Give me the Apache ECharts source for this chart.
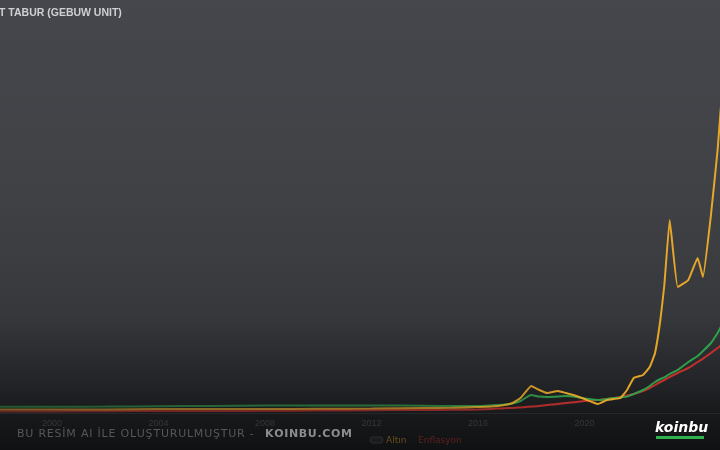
<!DOCTYPE html>
<html>
<head>
<meta charset="utf-8">
<script src="https://cdn.jsdelivr.net/npm/echarts@6/dist/echarts.min.js"></script>
<style>
html,body{margin:0;padding:0;background:#111214;}
#c{width:720px;height:450px;}
</style>
</head>
<body>
<div id="c"></div>
<script>
const titleText = 'T TABUR (GEBUW UNIT)';
const years = [1998.0, 2000, 2002, 2004, 2006, 2008, 2010, 2012, 2014, 2015, 2016, 2016.5, 2017, 2017.3, 2017.6, 2018.0, 2018.3, 2018.6, 2019.0, 2019.3, 2019.7, 2020.0, 2020.5, 2020.85, 2021.1, 2021.35, 2021.6, 2021.85, 2022.2, 2022.45, 2022.65, 2022.85, 2023.0, 2023.2, 2023.5, 2023.9, 2024.25, 2024.45, 2024.75, 2025.0, 2025.1, 2025.3];
const gold = [0.9, 0.9, 0.9, 1.0, 1.0, 1.0, 1.05, 1.1, 1.25, 1.3, 1.5, 1.6, 2.0, 2.5, 3.75, 6.75, 5.75, 5.0, 5.5, 5.0, 4.25, 3.5, 2.25, 3.25, 3.5, 3.75, 5.75, 8.75, 9.5, 11.5, 15, 23.25, 32, 48.25, 31.5, 33.25, 38.75, 34, 49.5, 65.75, 74.5, 90.75];
const green = [1.55, 1.55, 1.6, 1.7, 1.75, 1.9, 1.9, 1.9, 1.8, 1.75, 1.75, 1.9, 2.1, 2.4, 3.0, 4.5, 4.1, 4.0, 4.1, 4.25, 4.0, 3.6, 3.25, 3.5, 3.75, 3.9, 4.1, 4.75, 5.75, 6.75, 7.75, 8.5, 8.9, 9.75, 10.75, 12.75, 14.25, 15.5, 17.5, 20, 21.25, 23.75];
const red = [0.4, 0.4, 0.45, 0.5, 0.5, 0.55, 0.6, 0.7, 0.75, 0.8, 0.9, 1.0, 1.2, 1.25, 1.4, 1.6, 1.75, 2.0, 2.25, 2.5, 2.75, 3.0, 3.25, 3.5, 3.75, 4.0, 4.4, 4.75, 5.5, 6.25, 7.0, 7.75, 8.25, 9.0, 10.0, 11.25, 12.75, 13.6, 15.0, 16.25, 16.75, 17.75];
const tickYears = [2000, 2004, 2008, 2012, 2016, 2020];
const seriesNames = ['Konut', 'Altın', 'Enflasyon'];
const watermarkA = 'BU RESİM AI İLE OLUŞTURULMUŞTUR - ';
const watermarkB = 'KOINBU.COM';

function pairs(xs, ys){ return xs.map((x,i)=>[x, ys[i]]); }
function fade(r,g,b){
  return {type:'linear', x:0, y:0, x2:1, y2:0, colorStops:[
    {offset:0, color:`rgba(${r},${g},${b},0.45)`},
    {offset:0.6, color:`rgba(${r},${g},${b},0.65)`},
    {offset:0.8, color:`rgba(${r},${g},${b},0.95)`},
    {offset:1, color:`rgba(${r},${g},${b},1)`}
  ]};
}
const mctx = document.createElement('canvas').getContext('2d');
function spaced(text, x0, x1, y, font, fill){
  mctx.font = font;
  const chars = Array.from(text);
  const widths = chars.map(c=>mctx.measureText(c).width);
  const natural = widths.reduce((a,b)=>a+b,0);
  const gap = (x1 - x0 - natural) / (chars.length - 1);
  let x = x0;
  const out = [];
  chars.forEach((c,i)=>{
    if (c !== ' ') out.push({type:'text', x:x, y:y, silent:true, style:{text:c, fill:fill, font:font}});
    x += widths[i] + gap;
  });
  return out;
}

const chart = echarts.init(document.getElementById('c'), null, {renderer:'canvas'});
chart.setOption({
  animation:false,
  backgroundColor:{type:'linear', x:0, y:0, x2:0, y2:1, colorStops:[
    {offset:0, color:'#45474c'},
    {offset:0.45, color:'#3f4145'},
    {offset:0.7, color:'#36383c'},
    {offset:0.85, color:'#232427'},
    {offset:0.92, color:'#18191b'},
    {offset:1, color:'#101113'}
  ]},
  grid:{left:0, right:0, top:13, bottom:37, containLabel:false},
  xAxis:{type:'value', min:1998.05, max:2025.09,
    axisLine:{show:true, lineStyle:{color:'#26272a'}}, axisTick:{show:false}, splitLine:{show:false},
    axisLabel:{color:'#35373a', fontSize:9, margin:6, customValues:tickYears, formatter:v=>String(v)}},
  yAxis:{type:'value', min:0, max:100, show:false, splitLine:{show:false}},
  series:[
    {name:seriesNames[0], type:'line', data:pairs(years, green), showSymbol:false, smooth:0.2,
      lineStyle:{width:2, color:fade(46,160,74)}, itemStyle:{color:'#2ea04a'}, z:3},
    {name:seriesNames[2], type:'line', data:pairs(years, red), showSymbol:false, smooth:0.3,
      lineStyle:{width:2, color:fade(196,48,44)}, itemStyle:{color:'#c4302c'}, z:2},
    {name:seriesNames[1], type:'line', data:pairs(years, gold), showSymbol:false, smooth:0.1,
      lineStyle:{width:2, color:fade(232,168,40)}, itemStyle:{color:'#e8a828'}, z:4}
  ],
  graphic:[
    {type:'text', x:-1, y:8, style:{text:titleText, fill:'#cfd0d2', font:'bold 10.5px "Liberation Sans"'}},
    ...spaced(watermarkA, 17, 258, 429, '11px "DejaVu Sans"', '#55575b'),
    ...spaced(watermarkB, 265, 352, 429, 'bold 11px "DejaVu Sans"', '#8b8d91'),
    {type:'rect', x:370, y:437, shape:{width:13, height:6, r:3}, style:{fill:'#1b1c1e', stroke:'#2c2d30', lineWidth:1}},
    {type:'text', x:386, y:436, style:{text:seriesNames[1], fill:'#6b4f1c', font:'9px "DejaVu Sans"'}},
    {type:'text', x:418, y:436, style:{text:seriesNames[2], fill:'#5e201d', font:'9px "DejaVu Sans"'}},
    {type:'rect', x:656, y:436, shape:{width:48, height:3}, style:{fill:'#2fb14e'}},
    {type:'text', x:655, y:421, style:{text:'koinbu', fill:'#ffffff', font:'italic bold 14px "DejaVu Sans"'}}
  ]
});
</script>
</body>
</html>
